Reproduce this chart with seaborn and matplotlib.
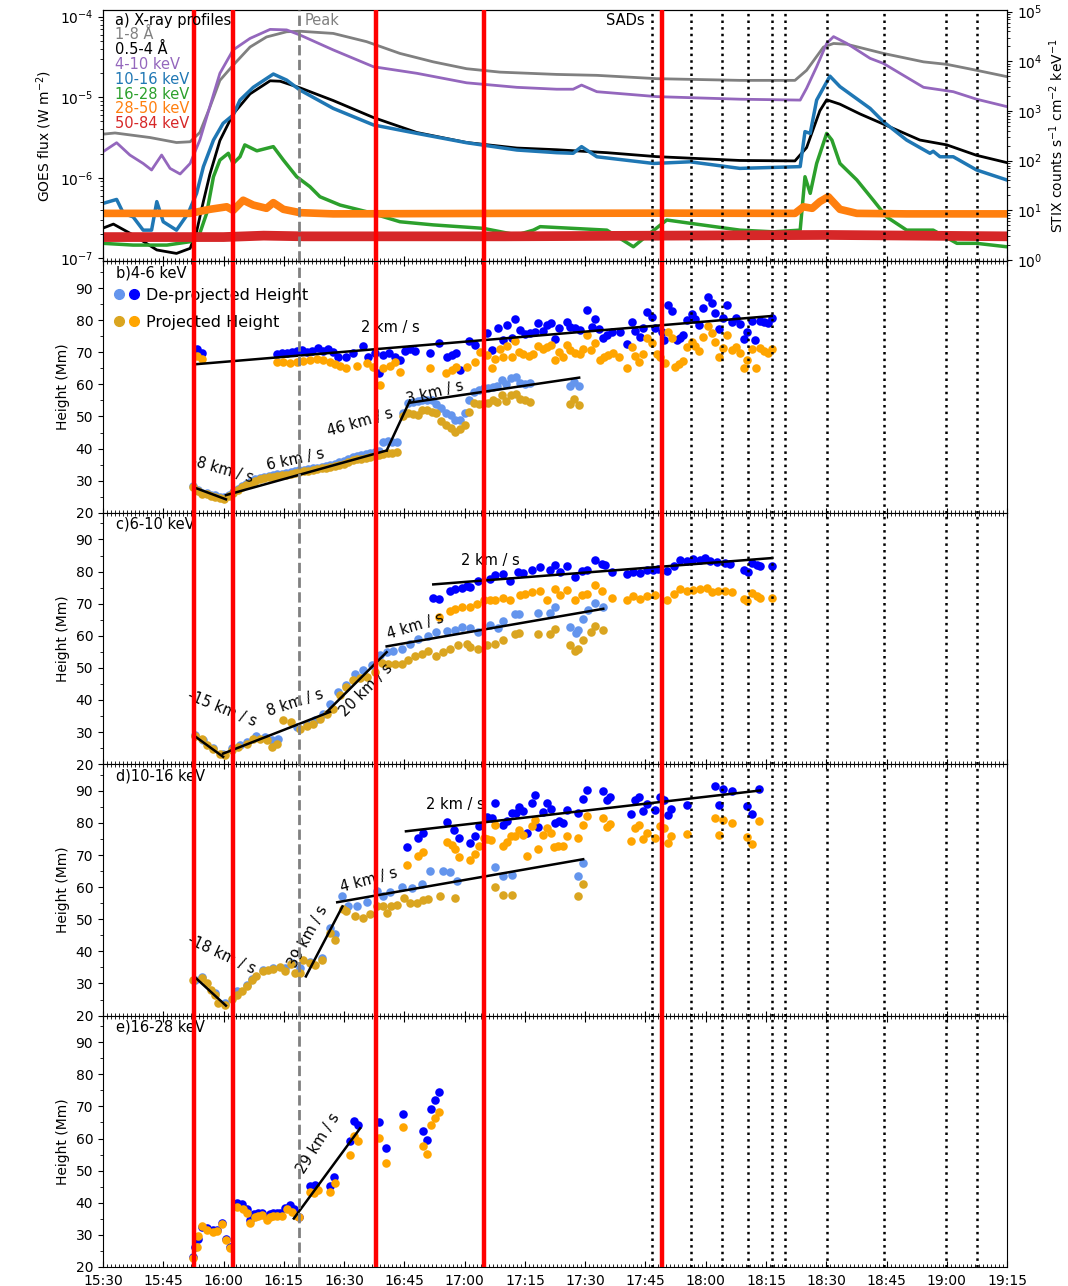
import matplotlib
matplotlib.use("Agg")
import matplotlib.pyplot as plt
import seaborn as sns
from matplotlib.ticker import MultipleLocator, LogLocator, NullFormatter
from matplotlib.lines import Line2D
from matplotlib.legend_handler import HandlerTuple

# ---------------- data (time in minutes after 15:30) ----------------
xtick_pos = list(range(0, 226, 15))
xtick_labels = ["15:30", "15:45", "16:00", "16:15", "16:30", "16:45", "17:00", "17:15",
                "17:30", "17:45", "18:00", "18:15", "18:30", "18:45", "19:00", "19:15"]

red_times = [22.6, 32.4, 67.9, 94.7, 139.1]
peak_time = 48.8
sad_times = [136.7, 146.3, 154.1, 160.5, 166.5, 169.8, 180.1, 194.4, 209.8, 217.4]

# GOES (W m-2)
goes_long_t = [0, 3, 11.7, 18.3, 21.7, 24.1, 26.6, 29.1, 32.4, 36.6, 40.7, 45.7, 49, 57.3, 65.6,
               73.9, 82.2, 90.5, 98.8, 112.9, 122.9, 137.8, 158.5, 172.2, 175.1, 179.3, 181.8,
               185.1, 194.2, 204.2, 210, 217.4, 225]
goes_long = [3.48e-6, 3.6e-6, 3.16e-6, 2.74e-6, 2.8e-6, 3.65e-6, 7.5e-6, 1.62e-5, 2.5e-5, 4.2e-5,
             5.6e-5, 6.5e-5, 6.6e-5, 6.2e-5, 4.9e-5, 3.5e-5, 2.75e-5, 2.26e-5, 2.05e-5, 1.92e-5,
             1.87e-5, 1.7e-5, 1.62e-5, 1.62e-5, 2.16e-5, 4.2e-5, 4.65e-5, 4.55e-5, 3.5e-5,
             2.75e-5, 2.56e-5, 2.16e-5, 1.8e-5]
goes_short_t = [0, 2.6, 7.5, 13.4, 18.3, 21.7, 23.3, 25, 26.6, 29.1, 32.4, 36.6, 41.6, 44.1, 49,
                57.3, 67.3, 78.1, 90.5, 103, 112.9, 125.4, 137.8, 158.5, 172.2, 175.1, 178.4,
                180.1, 183.4, 188.4, 194.2, 203.3, 210, 217.4, 225]
goes_short = [2.37e-7, 2.66e-7, 1.95e-7, 1.27e-7, 1.15e-7, 1.33e-7, 2.15e-7, 5.1e-7, 1.1e-6,
              2.9e-6, 6.2e-6, 1.1e-5, 1.6e-5, 1.58e-5, 1.31e-5, 9.1e-6, 5.6e-6, 3.65e-6, 2.74e-6,
              2.34e-6, 2.23e-6, 2.05e-6, 1.83e-6, 1.64e-6, 1.62e-6, 2.37e-6, 6.8e-6, 9.3e-6,
              8.2e-6, 6.2e-6, 4.64e-6, 2.94e-6, 2.56e-6, 1.9e-6, 1.54e-6]

# STIX (counts s-1 cm-2 keV-1)
stix_4_10_t = [0, 3.4, 6.7, 10, 12.1, 14.6, 16.7, 19.2, 21.7, 24.1, 26.6, 29.1, 32.4, 36.6, 41.6,
               45.7, 49, 57.3, 67.3, 78.1, 90.5, 103, 112.9, 117, 119.1, 122.9, 137.8, 158.5,
               173.5, 175.1, 177.6, 180.1, 181.8, 185.1, 190.9, 194.2, 204.2, 211.6, 217.4, 224.9]
stix_4_10 = [151, 230, 130, 88, 65, 130, 70, 54, 88, 260, 1230, 5750, 17000, 29000, 44000, 43000,
             34000, 17000, 7800, 5750, 3700, 3000, 2750, 2750, 3330, 2450, 1950, 1730, 1660, 2870,
             7800, 23000, 31500, 23000, 11500, 9100, 3000, 2450, 1730, 1230]
stix_10_16_t = [0, 3.4, 5.1, 7.5, 10, 12.1, 13.4, 15, 18.3, 21.2, 23.3, 25, 27.5, 29.9, 32.4, 34.1,
                37.4, 42.4, 45.7, 49, 57.3, 67.3, 78.1, 90.5, 103, 112.9, 117, 119.1, 122.9, 137,
                146.1, 158.5, 173.5, 174.7, 176, 177.6, 180.9, 183.4, 190.9, 194.2, 200, 205.8,
                206.6, 208.3, 211.6, 217.4, 224.9]
stix_10_16 = [13.8, 16.6, 8.7, 7.4, 4.0, 4.0, 15, 5.9, 4.0, 8.7, 22, 76, 260, 565, 830, 1660, 3000,
              5560, 4200, 2650, 1130, 525, 355, 230, 164, 145, 141, 192, 120, 88, 95, 70, 76, 385,
              355, 1660, 5040, 3100, 1130, 610, 260, 141, 155, 120, 120, 65, 41]
stix_16_28_t = [0, 7.5, 15.9, 21.7, 24.1, 25.8, 27.5, 29.1, 31.2, 32.4, 34.1, 35.3, 38.3, 42.4,
                44.9, 48.2, 51.5, 54, 59, 65.6, 73.9, 82.2, 94.6, 103, 107.1, 108.8, 125.4, 132,
                136.1, 140.3, 146.1, 158.5, 166.8, 173.5, 174.7, 176, 177.6, 180.1, 181.4, 183.4,
                187.6, 191.7, 195, 200, 206.6, 212.5, 217.4, 224.9]
stix_16_28 = [2.17, 2.0, 2.0, 2.34, 3.45, 8.7, 47.6, 103, 141, 88, 120, 208, 158, 192, 103, 47.6,
              30, 18.8, 12.8, 9.4, 5.9, 5.1, 4.35, 3.2, 4.0, 4.7, 4.0, 1.85, 3.45, 6.4, 5.5, 4.0,
              3.7, 4.0, 47.6, 22, 88, 355, 260, 88, 41, 16, 7.4, 4.0, 4.0, 2.17, 2.17, 1.85]
stix_28_50_t = [0, 21.7, 26.6, 30.8, 32.4, 34.9, 37.4, 40.7, 42.4, 44.9, 49, 57.3, 100, 140,
                172.2, 174.3, 176.5, 178.4, 180.5, 183.4, 187.6, 200, 225]
stix_28_50 = [8.7, 8.7, 10.5, 11.8, 10, 16, 12.8, 11, 14.3, 10.5, 9, 8.5, 8.7, 8.8, 8.7, 11.8, 11,
              15, 18.8, 10.5, 8.7, 8.5, 8.5]
stix_50_84_t = [0, 30, 40, 50, 100, 180, 225]
stix_50_84 = [2.9, 2.9, 3.1, 3.0, 3.0, 3.2, 3.0]

xray_labels = ["1-8 Å", "0.5-4 Å", "4-10 keV", "10-16 keV", "16-28 keV", "28-50 keV", "50-84 keV"]
xray_colors = ["grey", "black", "tab:purple", "tab:blue", "tab:green", "tab:orange", "tab:red"]

# ---- panel b) 4-6 keV ----
b_low_t = [22.5, 23.6, 24.7, 25.8, 26.9, 28.0, 29.1, 30.2, 31.3, 32.4, 33.5, 34.6, 35.7, 36.8, 37.9,
           39.0, 40.1, 41.2, 42.3, 43.4, 44.5, 45.6, 46.7, 47.8, 48.9, 50.0, 51.1, 52.2, 53.3, 54.4,
           55.5, 56.6, 57.7, 58.8, 59.9, 61.0, 62.1, 63.2, 64.3, 65.4, 66.5, 67.6, 68.7, 69.8, 70.9,
           72.0, 73.1, 74.7, 76.0, 77.2, 78.3, 79.5, 80.6, 81.8, 83.0, 84.2, 85.4, 86.5, 87.7, 88.9,
           90.0, 91.2, 92.3, 93.5, 94.7, 95.8, 97.0, 98.1, 99.3, 100.4, 101.6, 102.7, 103.9, 105.0,
           106.2, 116.2, 117.3, 118.5]
b_low_proj = [27.9, 26.8, 25.9, 25.8, 25.3, 25.0, 24.6, 24.3, 25.2, 26.1, 27.0, 28.0, 28.6, 29.3,
              29.9, 30.4, 30.8, 31.0, 31.3, 31.5, 31.7, 31.9, 32.2, 32.5, 32.7, 32.9, 33.1, 33.4,
              33.6, 33.8, 34.0, 34.3, 34.6, 34.9, 35.3, 35.8, 36.4, 36.7, 36.9, 37.2, 37.4, 37.6,
              37.9, 38.3, 38.7, 38.5, 39.0, 50.0, 51.0, 50.8, 50.5, 52.0, 52.1, 51.5, 51.0, 48.5,
              47.4, 46.3, 45.3, 46.0, 47.4, 51.5, 54.1, 54.0, 54.1, 54.3, 55.0, 54.5, 56.7, 54.7,
              56.7, 57.0, 55.4, 55.0, 54.6, 53.9, 55.4, 53.7]
b_low_dep = [28.3, 27.2, 26.3, 26.2, 25.7, 25.4, 25.0, 24.8, 25.7, 26.6, 27.5, 28.5, 29.1, 29.8,
             30.4, 30.9, 31.3, 31.5, 31.8, 32.0, 32.2, 32.4, 32.7, 33.0, 33.2, 33.4, 33.6, 33.9,
             34.1, 34.3, 34.6, 35.0, 35.3, 35.7, 36.1, 36.8, 37.4, 37.8, 38.0, 38.3, 38.6, 38.9,
             39.3, 41.9, 42.4, 42.2, 42.0, 51.0, 54.1, 54.6, 54.8, 55.2, 55.0, 55.2, 54.0, 52.5,
             51.0, 50.5, 49.0, 48.9, 51.0, 55.2, 57.5, 58.3, 58.8, 58.8, 59.3, 59.5, 61.4, 60.0,
             61.9, 62.2, 60.4, 60.0, 60.3, 59.5, 60.6, 59.5]
b_up_dep_t = [23.3, 24.6, 43.2, 44.5, 45.7, 47.0, 48.2, 49.5, 50.7, 52.0, 53.6, 54.8, 56.1, 57.3,
              58.6, 60.6, 62.3, 64.8, 66.0, 67.7, 68.8, 69.8, 71.3, 72.7, 73.9, 75.2, 76.4, 77.7,
              81.5, 83.7, 85.5, 86.8, 87.9, 88.9, 91.2, 92.6, 95.5, 96.7, 98.4, 99.6, 100.5, 101.7,
              102.5, 103.8, 105.0, 106.3, 107.5, 108.3, 109.6, 110.4, 111.4, 112.5, 113.6, 115.4,
              116.2, 117.5, 118.7, 120.4, 121.6, 122.5, 123.4, 124.5, 125.4, 126.6, 128.7, 130.3,
              131.6, 132.4, 133.7, 134.5, 135.3, 136.6, 137.4, 139.0, 139.5, 140.5, 141.5, 142.8,
              143.6, 144.4, 145.3, 146.5, 147.3, 148.4, 149.4, 150.5, 151.5, 152.3, 153.4, 154.4,
              155.4, 156.5, 157.5, 158.5, 159.4, 160.2, 161.4, 162.3, 163.5, 164.6, 165.6, 166.4]
b_up_dep = [70.9, 69.9, 69.5, 69.7, 69.9, 70.2, 70.5, 70.7, 70.2, 70.5, 71.2, 70.5, 70.9, 70.2,
            68.6, 68.4, 69.7, 72.0, 68.4, 69.9, 63.5, 69.2, 69.9, 68.4, 67.6, 70.5, 70.9, 70.5,
            69.9, 73.0, 68.4, 69.2, 69.9, 64.5, 73.6, 72.3, 75.9, 70.7, 77.5, 73.8, 78.5, 74.3,
            80.3, 76.9, 75.7, 75.9, 76.4, 79.0, 76.7, 78.5, 79.0, 74.0, 77.5, 79.3, 78.0, 77.5,
            76.9, 83.2, 78.0, 80.3, 77.1, 74.3, 75.4, 76.4, 76.4, 72.6, 79.5, 76.7, 74.9, 77.5,
            82.6, 81.1, 77.5, 76.4, 73.8, 84.7, 82.9, 73.8, 74.3, 75.4, 80.1, 81.9, 80.3, 78.5,
            83.7, 87.3, 85.2, 82.1, 77.1, 80.6, 84.7, 79.5, 80.6, 78.8, 74.0, 76.4, 79.8, 73.8,
            79.7, 79.3, 79.2, 80.6]
b_up_proj_t = [23.3, 24.6, 43.2, 44.9, 46.5, 48.2, 49.9, 51.5, 53.2, 54.8, 56.5, 57.7, 59.0, 60.6,
               63.1, 65.6, 67.3, 69.0, 69.8, 71.4, 72.7, 73.9, 81.4, 85.4, 86.8, 87.9, 90.5, 92.6,
               93.8, 95.5, 96.7, 97.6, 98.8, 99.6, 100.6, 101.7, 102.5, 103.6, 104.6, 105.9, 107.1,
               108.3, 109.6, 110.4, 111.5, 112.5, 113.6, 114.4, 115.4, 116.2, 117.5, 118.6, 119.4,
               120.4, 121.5, 122.5, 123.7, 124.7, 125.8, 126.8, 128.5, 130.3, 131.6, 132.4, 133.5,
               134.5, 135.3, 136.6, 137.8, 138.6, 139.9, 140.5, 141.5, 142.4, 143.4, 144.4, 145.3,
               146.5, 147.3, 148.4, 149.4, 150.5, 151.5, 152.3, 153.4, 154.4, 155.4, 156.5, 157.5,
               158.5, 159.4, 160.2, 161.4, 162.5, 163.5, 164.6, 165.6, 166.4]
b_up_proj = [68.8, 67.8, 67.1, 67.1, 66.7, 67.1, 67.4, 67.6, 67.8, 67.6, 67.1, 66.4, 65.7, 65.0,
             65.7, 66.6, 65.3, 59.8, 65.0, 65.7, 67.1, 64.0, 65.0, 63.7, 64.5, 65.3, 65.5, 67.1,
             70.2, 69.2, 65.0, 67.8, 70.9, 68.6, 72.0, 68.4, 73.6, 70.2, 69.4, 68.8, 69.4, 72.0,
             70.9, 71.7, 72.3, 67.6, 70.2, 68.4, 72.3, 70.7, 69.9, 69.5, 70.9, 75.4, 70.7, 72.8,
             67.6, 68.4, 69.2, 69.7, 68.4, 65.0, 71.5, 68.8, 67.1, 69.5, 74.3, 73.0, 69.5, 68.4,
             66.6, 76.4, 74.3, 65.5, 66.3, 67.3, 71.5, 73.3, 71.8, 70.5, 74.7, 78.2, 75.9, 73.3,
             68.6, 71.2, 75.4, 70.7, 71.5, 69.7, 65.2, 67.6, 70.9, 65.2, 71.2, 70.5, 69.9, 70.9]
b_fits = [(23.3, 66.3, 166.4, 81.3), (23.1, 27.7, 30.6, 24.2), (30.6, 25.5, 70.6, 39.4),
          (70.6, 39.4, 76.4, 55.0), (76.4, 54.3, 118.5, 62.1)]
b_fit_text = [("2 km / s", 71.4, 77.6, 0), ("-8 km / s", 29.6, 33.4, -16), ("6 km / s", 47.8, 36.5, 12),
              ("46 km / s", 64.0, 48.3, 16), ("3 km / s", 82.6, 57.6, 14)]

# ---- panel c) 6-10 keV ----
c_low_proj_t = [22.9, 24.6, 25.8, 27.5, 29.1, 30.4, 32.0, 33.7, 35.8, 37.4, 39.1, 40.7, 42.0, 43.2,
                44.7, 46.9, 49.0, 50.7, 52.3, 54.0, 55.7, 57.3, 59.0, 60.6, 62.3, 63.9, 65.6, 67.7,
                69.4, 71.0, 72.7, 74.3, 76.0, 77.7, 79.3, 81.0, 83.0, 84.7, 86.4, 88.4, 90.5, 91.3,
                93.4, 95.5, 97.6, 99.6, 102.5, 103.6, 108.3, 111.2, 112.5, 116.2, 117.5, 118.3,
                119.4, 121.4, 122.4, 124.4]
c_low_proj = [28.7, 27.7, 25.9, 24.6, 23.3, 22.8, 24.4, 25.2, 26.4, 28.0, 28.0, 27.5, 25.2, 26.4,
              33.9, 33.2, 31.1, 31.8, 32.6, 34.2, 35.6, 37.3, 41.5, 43.9, 46.1, 46.7, 47.2, 48.7,
              51.5, 51.1, 51.1, 51.3, 52.6, 53.6, 54.4, 55.3, 53.6, 54.9, 56.0, 57.0, 57.5, 56.5,
              56.0, 57.0, 57.5, 58.8, 60.6, 60.9, 60.6, 60.6, 62.2, 57.0, 55.3, 56.0, 58.8, 61.2,
              62.9, 61.9]
c_low_dep_t = [22.9, 25.0, 27.5, 29.9, 32.0, 34.1, 35.8, 38.2, 40.3, 42.0, 43.6, 48.2, 50.7, 52.8,
               54.8, 56.5, 58.6, 60.6, 62.7, 64.8, 66.9, 68.9, 70.6, 72.3, 74.3, 76.4, 78.5, 81.0,
               83.0, 85.5, 87.6, 89.3, 91.3, 93.4, 96.3, 98.4, 99.6, 102.5, 103.6, 108.3, 111.2,
               112.5, 116.2, 117.7, 118.3, 119.4, 120.8, 122.4, 124.4]
c_low_dep = [29.0, 27.5, 24.9, 23.3, 24.9, 25.9, 27.0, 28.7, 28.5, 27.5, 27.7, 31.6, 32.6, 33.9,
             35.5, 38.7, 42.5, 44.6, 48.2, 49.4, 50.8, 53.9, 54.9, 55.4, 56.0, 57.5, 59.1, 59.8,
             61.2, 61.5, 61.7, 62.7, 62.5, 61.2, 63.2, 62.5, 64.6, 66.7, 66.9, 67.1, 67.1, 69.0,
             62.7, 60.9, 61.9, 65.3, 67.9, 70.2, 69.0]
c_up_dep_t = [82.2, 83.5, 86.4, 87.6, 89.3, 90.5, 91.3, 93.4, 96.3, 97.6, 99.6, 101.3, 103.4, 104.6,
              106.7, 108.8, 111.2, 112.5, 113.7, 115.4, 117.5, 119.1, 120.4, 122.4, 124.1, 124.9,
              126.6, 130.3, 132.0, 133.6, 135.3, 136.8, 138.2, 140.3, 142.0, 143.6, 145.3, 146.9,
              148.6, 149.8, 151.1, 152.7, 154.8, 156.0, 159.4, 160.6, 161.4, 162.7, 163.5, 166.4]
c_up_dep = [71.9, 71.6, 74.1, 74.6, 75.0, 75.4, 75.2, 77.2, 77.8, 78.8, 79.1, 77.2, 79.8, 79.5,
            80.6, 81.4, 80.4, 81.9, 79.8, 81.6, 78.4, 80.2, 80.6, 83.5, 82.2, 81.9, 79.8, 79.1,
            79.8, 79.5, 80.4, 80.6, 80.9, 80.2, 81.6, 83.5, 83.3, 84.0, 83.5, 84.3, 83.3, 82.9,
            82.6, 82.4, 80.6, 79.8, 82.6, 81.9, 81.6, 81.6]
c_up_proj_t = [83.5, 86.4, 87.6, 89.3, 91.3, 93.0, 94.7, 96.3, 97.6, 99.6, 101.3, 103.8, 105.0,
               106.7, 108.8, 110.4, 112.5, 113.7, 115.4, 117.5, 119.1, 120.4, 122.4, 124.1, 126.6,
               130.3, 132.0, 133.6, 135.3, 137.4, 140.3, 142.0, 143.6, 145.3, 146.9, 148.6, 150.2,
               151.5, 153.1, 154.8, 156.5, 159.4, 160.2, 161.4, 162.7, 163.5, 166.4]
c_up_proj = [66.0, 67.7, 68.4, 68.9, 68.9, 70.0, 71.2, 71.2, 71.2, 71.9, 71.2, 72.6, 73.1, 73.6,
             74.1, 71.2, 74.6, 72.6, 74.3, 71.0, 72.6, 73.1, 75.7, 74.1, 71.9, 71.0, 72.3, 71.6,
             72.3, 72.6, 71.2, 73.1, 74.7, 74.1, 74.4, 74.7, 75.0, 73.6, 74.1, 73.9, 73.6, 71.5,
             70.8, 73.3, 72.3, 71.9, 71.9]
c_fits = [(82.2, 76.0, 166.4, 84.2), (23.1, 28.5, 29.9, 22.3), (29.9, 23.3, 56.5, 36.3),
          (55.7, 36.3, 70.6, 54.9), (70.6, 56.7, 124.5, 68.4)]
c_fit_text = [("2 km / s", 96.3, 83.5, 0), ("-15 km / s", 29.6, 37.4, -22), ("8 km / s", 47.8, 39.3, 18),
              ("20 km / s", 65.5, 43.0, 45), ("4 km / s", 77.7, 62.9, 17)]

# ---- panel d) 10-16 keV ----
d_low_proj_t = [22.5, 24.6, 25.8, 27.0, 27.9, 28.7, 30.4, 32.0, 33.3, 34.5, 35.8, 37.0, 38.2, 39.9,
                41.1, 42.4, 44.1, 45.3, 46.9, 47.8, 49.0, 49.9, 51.5, 52.8, 54.4, 56.5, 57.7, 59.7,
                60.6, 62.7, 64.8, 66.5, 68.1, 69.6, 70.6, 71.8, 73.1, 74.8, 76.4, 78.1, 79.7, 81.0,
                83.9, 87.6, 97.6, 99.6, 101.7, 118.3, 119.4]
d_low_proj = [31.2, 31.7, 30.2, 28.1, 26.5, 23.9, 23.4, 25.2, 26.5, 27.6, 29.1, 31.2, 32.4, 33.8,
              34.3, 34.5, 35.1, 33.8, 36.2, 33.3, 33.3, 37.2, 36.4, 35.9, 37.4, 45.7, 43.6, 53.2,
              52.5, 50.9, 50.4, 51.7, 54.0, 54.0, 51.9, 54.0, 54.5, 56.6, 55.0, 55.0, 56.1, 56.3,
              57.1, 56.6, 60.2, 57.6, 57.6, 57.1, 61.1]
d_low_dep_t = [22.9, 24.6, 27.9, 30.4, 33.3, 35.8, 37.0, 39.9, 42.4, 45.3, 47.0, 49.0, 51.5, 54.4,
               56.5, 57.7, 59.4, 61.1, 63.1, 65.6, 68.1, 69.8, 71.4, 74.3, 76.8, 79.3, 81.4, 84.7,
               86.4, 88.0, 97.6, 99.6, 101.7, 118.3, 119.4]
d_low_dep = [31.2, 31.9, 27.1, 23.8, 27.6, 29.4, 31.5, 34.1, 34.8, 34.8, 36.5, 34.8, 36.8, 37.9,
             47.3, 45.5, 57.1, 54.0, 54.0, 55.3, 58.7, 57.1, 58.4, 60.2, 59.7, 61.1, 64.9, 64.9,
             64.6, 61.8, 66.3, 63.6, 63.9, 63.6, 67.5]
d_up_dep_t = [75.6, 78.5, 79.7, 85.5, 87.4, 88.7, 91.3, 92.6, 93.7, 95.5, 96.7, 97.6, 99.6, 100.6,
              101.7, 102.7, 103.6, 104.6, 105.6, 106.7, 107.5, 108.3, 109.4, 110.4, 111.4, 112.5,
              113.6, 114.4, 115.4, 118.3, 119.4, 120.4, 124.4, 125.4, 126.3, 131.4, 132.4, 133.4,
              134.3, 135.3, 137.4, 138.5, 139.5, 140.5, 141.4, 145.3, 152.3, 153.4, 154.4, 156.5,
              160.2, 161.4, 163.3]
d_up_dep = [72.5, 75.3, 77.0, 80.2, 77.9, 75.3, 73.9, 76.0, 78.9, 81.8, 81.5, 86.2, 79.4, 80.5,
            83.1, 83.1, 84.9, 83.6, 76.8, 86.2, 88.8, 78.7, 83.3, 86.2, 84.3, 79.9, 80.5, 79.9,
            83.9, 83.1, 87.4, 90.3, 90.1, 87.0, 88.0, 82.8, 87.0, 88.2, 83.6, 86.0, 84.1, 88.2,
            87.2, 82.5, 84.3, 85.5, 91.4, 85.6, 90.5, 90.0, 85.3, 82.8, 90.7]
d_up_proj_t = [75.6, 78.5, 79.6, 85.5, 86.8, 87.6, 88.7, 91.3, 92.6, 93.7, 94.7, 95.5, 96.5, 97.6,
               99.5, 100.5, 101.5, 102.5, 103.6, 104.6, 105.6, 106.7, 107.5, 108.3, 109.4, 110.4,
               111.4, 112.2, 113.3, 114.4, 115.4, 118.3, 119.4, 120.4, 124.4, 125.4, 126.3, 131.4,
               132.4, 133.4, 134.3, 135.3, 137.4, 138.5, 139.5, 140.5, 141.4, 145.3, 152.3, 153.4,
               154.4, 156.5, 160.2, 161.4, 163.3]
d_up_proj = [67.0, 69.8, 71.1, 74.2, 73.2, 71.9, 69.4, 68.5, 70.3, 72.7, 75.3, 75.0, 74.8, 79.4,
             72.7, 74.2, 76.0, 76.0, 77.7, 76.3, 69.8, 78.9, 81.0, 71.9, 76.3, 78.4, 77.0, 72.5,
             72.9, 72.9, 76.0, 75.3, 79.4, 82.2, 81.5, 78.7, 79.7, 74.5, 78.4, 79.4, 75.0, 77.0,
             75.3, 79.1, 78.4, 73.9, 75.8, 76.6, 81.5, 76.3, 80.8, 79.9, 75.6, 73.5, 80.5]
d_fits = [(75.4, 77.4, 163.5, 90.1), (23.1, 31.7, 30.6, 23.1), (50.5, 32.2, 59.6, 54.0),
          (58.3, 55.3, 119.5, 68.7)]
d_fit_text = [("2 km / s", 87.6, 85.6, 0), ("-18 km / s", 29.6, 39.0, -25), ("39 km / s", 51.0, 44.6, 62),
              ("4 km / s", 66.2, 62.3, 15)]

# ---- panel e) 16-28 keV ----
e_dep_t = [22.5, 22.9, 23.7, 24.6, 25.9, 27.5, 28.5, 29.5, 30.6, 31.6, 33.3, 34.5, 35.8, 36.6, 37.6,
           38.7, 39.5, 40.7, 41.6, 42.4, 43.2, 44.1, 45.3, 46.5, 47.5, 48.9, 51.4, 52.8, 56.5, 57.5,
           61.5, 62.5, 63.5, 68.8, 70.4, 74.6, 79.6, 80.6, 81.6, 82.6, 83.7]
e_dep = [23.0, 26.1, 28.6, 32.6, 32.0, 31.5, 31.6, 33.6, 28.6, 26.3, 40.0, 39.6, 38.0, 34.6, 36.5,
         36.7, 36.9, 35.5, 36.5, 36.7, 36.9, 36.9, 38.3, 39.3, 38.0, 35.7, 45.2, 45.5, 45.2, 48.1,
         59.3, 65.5, 64.2, 65.2, 57.2, 67.6, 62.4, 59.5, 69.1, 72.0, 74.6]
e_proj_t = [22.5, 23.3, 23.7, 24.6, 25.8, 27.5, 28.5, 29.5, 30.6, 31.6, 33.3, 34.9, 35.8, 36.6, 37.8,
            38.7, 39.5, 40.7, 41.6, 42.4, 43.2, 44.5, 45.7, 47.0, 48.2, 48.9, 51.4, 52.4, 53.6, 56.5,
            57.7, 61.6, 62.5, 63.5, 68.8, 70.4, 74.6, 79.6, 80.6, 81.6, 82.6, 83.7]
e_proj = [22.7, 26.1, 29.6, 32.8, 31.5, 31.0, 31.2, 33.4, 28.4, 25.8, 38.8, 38.0, 36.7, 33.6, 35.7,
          35.9, 36.2, 34.6, 35.7, 35.9, 36.0, 35.9, 38.0, 37.2, 35.9, 35.5, 43.5, 43.1, 44.0, 43.5,
          46.2, 54.8, 60.8, 59.3, 60.3, 52.5, 63.5, 57.7, 55.2, 64.2, 66.3, 68.3]
e_fits = [(47.5, 35.1, 64.0, 63.2)]
e_fit_text = [("29 km / s", 53.5, 58.5, 58)]

panel_names = ["b)4-6 keV", "c)6-10 keV", "d)10-16 keV", "e)16-28 keV"]

# ---------------- figure ----------------
DARK_BLUE, LIGHT_BLUE, ORANGE, GOLD = "#0000ff", "cornflowerblue", "orange", "goldenrod"

fig, axes = plt.subplots(5, 1, figsize=(10.68, 12.86), dpi=100, sharex=True)
fig.subplots_adjust(left=0.0964, right=0.943, top=0.9922, bottom=0.0148, hspace=0)

# --- panel a ---
ax = axes[0]
ax2 = ax.twinx()
sns.lineplot(x=goes_long_t, y=goes_long, ax=ax, color=xray_colors[0], lw=2, estimator=None, sort=False)
sns.lineplot(x=goes_short_t, y=goes_short, ax=ax, color=xray_colors[1], lw=2, estimator=None, sort=False)
stix = [(stix_4_10_t, stix_4_10, 2.0), (stix_10_16_t, stix_10_16, 2.5), (stix_16_28_t, stix_16_28, 2.5),
        (stix_28_50_t, stix_28_50, 5.5), (stix_50_84_t, stix_50_84, 7)]
for (tt, vv, lw), col in zip(stix, xray_colors[2:]):
    sns.lineplot(x=tt, y=vv, ax=ax2, color=col, lw=lw, estimator=None, sort=False)
ax.set_yscale("log")
ax2.set_yscale("log")
ax.set_ylim(9.15e-8, 1.21e-4)
ax2.set_ylim(0.938, 1.08e5)
ax.set_ylabel("GOES flux (W m$^{-2}$)", fontsize=10)
ax2.set_ylabel("STIX counts s$^{-1}$ cm$^{-2}$ keV$^{-1}$", fontsize=10)
for a in (ax, ax2):
    a.yaxis.set_major_locator(LogLocator(base=10, numticks=10))
    a.yaxis.set_minor_locator(LogLocator(base=10, subs=range(2, 10), numticks=10))
    a.yaxis.set_minor_formatter(NullFormatter())
    a.tick_params(axis="y", labelsize=10)

for tv in red_times:
    ax2.axvline(tv, color="red", lw=3.2, zorder=6)
ax2.axvline(peak_time, color="grey", lw=2, ls="--", zorder=5)
for tv in sad_times:
    ax2.axvline(tv, color="black", lw=1.8, ls=":", zorder=5)
ax2.text(peak_time + 1.3, 0.96, "Peak", color="grey", fontsize=10.5, va="center",
         transform=ax2.get_xaxis_transform())
ax2.text(134.9, 0.96, "SADs", color="black", fontsize=10.5, va="center", ha="right",
         transform=ax2.get_xaxis_transform())
ax2.text(0.013, 0.96, "a) X-ray profiles", color="black", fontsize=10.5, va="center",
         transform=ax2.transAxes, zorder=7)
for i, (lab, col) in enumerate(zip(xray_labels, xray_colors)):
    ax2.text(0.013, 0.96 - (i + 1) * 0.0589, lab, color=col, fontsize=10.5, va="center",
             transform=ax2.transAxes, zorder=7)

# --- height panels ---
panels = [
    (b_low_t, b_low_dep, b_low_t, b_low_proj, b_up_dep_t, b_up_dep, b_up_proj_t, b_up_proj),
    (c_low_dep_t, c_low_dep, c_low_proj_t, c_low_proj, c_up_dep_t, c_up_dep, c_up_proj_t, c_up_proj),
    (d_low_dep_t, d_low_dep, d_low_proj_t, d_low_proj, d_up_dep_t, d_up_dep, d_up_proj_t, d_up_proj),
]
for k, p in enumerate(panels):
    a = axes[k + 1]
    ldt, ld, lpt, lp, udt, ud, upt, up = p
    sns.scatterplot(x=ldt, y=ld, ax=a, color=LIGHT_BLUE, s=38, linewidth=0, legend=False, zorder=2)
    sns.scatterplot(x=lpt, y=lp, ax=a, color=GOLD, s=38, linewidth=0, legend=False, zorder=2)
    sns.scatterplot(x=udt, y=ud, ax=a, color=DARK_BLUE, s=38, linewidth=0, legend=False, zorder=2)
    sns.scatterplot(x=upt, y=up, ax=a, color=ORANGE, s=38, linewidth=0, legend=False, zorder=2)

ae = axes[4]
sns.scatterplot(x=e_dep_t, y=e_dep, ax=ae, color=DARK_BLUE, s=38, linewidth=0, legend=False, zorder=2)
sns.scatterplot(x=e_proj_t, y=e_proj, ax=ae, color=ORANGE, s=38, linewidth=0, legend=False, zorder=2)

all_fits = [(b_fits, b_fit_text), (c_fits, c_fit_text), (d_fits, d_fit_text), (e_fits, e_fit_text)]
for k, (fits, ftxt) in enumerate(all_fits):
    a = axes[k + 1]
    for (t0, h0, t1, h1) in fits:
        sns.lineplot(x=[t0, t1], y=[h0, h1], ax=a, color="black", lw=1.8, estimator=None, sort=False, zorder=4)
    for (lab, tx, hy, rot) in ftxt:
        a.text(tx, hy, lab, fontsize=10.5, ha="center", va="center", rotation=rot,
               rotation_mode="anchor", zorder=4)
    for tv in red_times:
        a.axvline(tv, color="red", lw=3.2, zorder=6)
    a.axvline(peak_time, color="grey", lw=2, ls="--", zorder=5)
    for tv in sad_times:
        a.axvline(tv, color="black", lw=1.8, ls=":", zorder=5)
    a.set_ylim(20, 98.3)
    a.yaxis.set_major_locator(MultipleLocator(10))
    a.yaxis.set_minor_locator(MultipleLocator(5))
    a.set_ylabel("Height (Mm)", fontsize=10)
    a.tick_params(axis="y", labelsize=10)
    a.text(0.0144, 0.954, panel_names[k], fontsize=10.5, va="center", transform=a.transAxes)
    a.tick_params(axis="x", which="both", direction="in", top=True)

# legend in panel b
h_dep = (Line2D([], [], ls="", marker="o", ms=7, color=LIGHT_BLUE), Line2D([], [], ls="", marker="o", ms=7, color=DARK_BLUE))
h_proj = (Line2D([], [], ls="", marker="o", ms=7, color=GOLD), Line2D([], [], ls="", marker="o", ms=7, color=ORANGE))
axes[1].legend([h_dep, h_proj], ["De-projected Height", "Projected Height"],
               handler_map={tuple: HandlerTuple(ndivide=None, pad=0.2)},
               loc="upper left", bbox_to_anchor=(0.005, 0.92), frameon=False, fontsize=11.5,
               handlelength=1.6, handletextpad=0.4, borderaxespad=0, labelspacing=0.75)

# shared x axis
for a in axes:
    a.set_xlim(0, 225)
    a.set_xlabel("")
axes[0].tick_params(axis="x", which="both", direction="in")
axes[-1].set_xticks(xtick_pos)
axes[-1].set_xticklabels(xtick_labels)
axes[-1].xaxis.set_minor_locator(MultipleLocator(1))
axes[-1].tick_params(axis="x", which="major", labelsize=10, length=4, pad=5)
axes[-1].tick_params(axis="x", which="minor", length=2)

fig.savefig("out.png", dpi=100)
